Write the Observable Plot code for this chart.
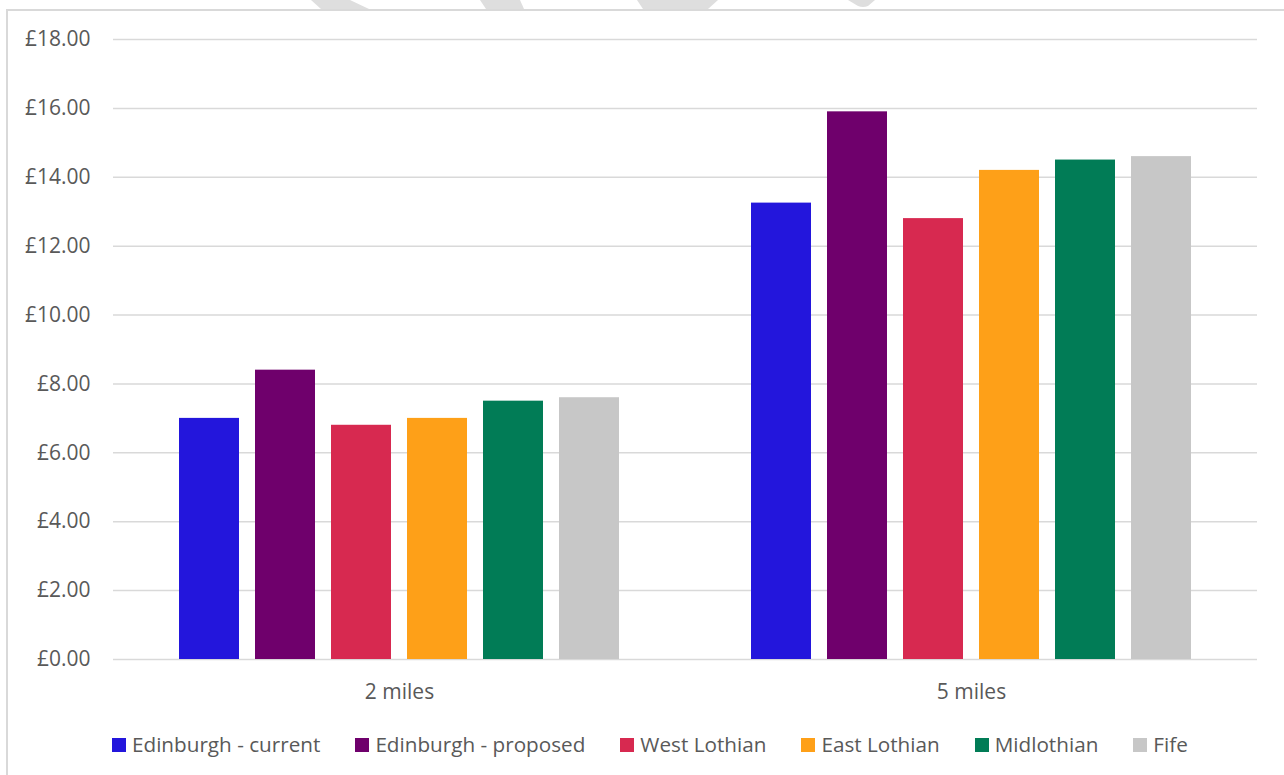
<!DOCTYPE html>
<html>
<head>
<meta charset="utf-8">
<script src="https://cdn.jsdelivr.net/npm/d3@7"></script>
<script src="https://cdn.jsdelivr.net/npm/@observablehq/plot@0.6"></script>
<style>
  html, body { margin: 0; padding: 0; background: #fff; }
  #wrap { position: relative; width: 1284px; height: 775px; overflow: hidden; font-family: "Open Sans", sans-serif; }
  #frame { position: absolute; left: 6px; top: 9px; right: -4px; bottom: -4px; border-left: 2px solid #d9d9d9; border-top: 2px solid #d9d9d9; }
  #wm { position: absolute; left: 0; top: 0; }
  #chart { position: absolute; left: 0; top: 0; }
  #legend { position: absolute; left: 112px; top: 734px; height: 21px; display: flex; align-items: center; font-size: 20.7px; line-height: 21px; color: #595959; white-space: nowrap; }
  .item { display: flex; align-items: center; margin-right: 35px; }
  .sw { width: 14px; height: 14px; margin-right: 6px; }
</style>
</head>
<body>
<div id="wrap">
  <svg id="wm" width="1284" height="12">
    <polygon points="311,0 350,0 369,9 321,9" fill="#dedede"/>
    <polygon points="480,0 520,0 524,9 486,9" fill="#dedede"/>
    <polygon points="637,0 718,0 708,9 643,9" fill="#dedede"/>
    <path d="M848,0 L875,0 L868,6 Q863,8 858,6 Z" fill="#dedede"/>
  </svg>
  <div id="frame"></div>
  <div id="chart"></div>
  <div id="legend"></div>
</div>
<script>
const groups = ["2 miles", "5 miles"];
const series = ["Edinburgh - current", "Edinburgh - proposed", "West Lothian", "East Lothian", "Midlothian", "Fife"];
const colors = ["#2316DC", "#6F006C", "#D72950", "#FEA018", "#017C56", "#C7C7C7"];
const values2miles = [7.00, 8.40, 6.80, 7.00, 7.50, 7.60];
const values5miles = [13.25, 15.90, 12.80, 14.20, 14.50, 14.60];
const yTicks = [0, 2, 4, 6, 8, 10, 12, 14, 16, 18];

const data = [];
series.forEach((s, i) => {
  data.push({group: groups[0], series: s, value: values2miles[i]});
  data.push({group: groups[1], series: s, value: values5miles[i]});
});

const chart = Plot.plot({
  width: 1284,
  height: 710,
  marginLeft: 113,
  marginRight: 27,
  marginTop: 39,
  marginBottom: 51,
  style: { fontFamily: "Open Sans, sans-serif", fontSize: "21px", color: "#595959", background: "transparent" },
  fx: { domain: groups, padding: 0, label: null },
  x: { domain: series, paddingInner: 0.2105, paddingOuter: 0.868, axis: null },
  y: { domain: [0, 18], label: null },
  color: { domain: series, range: colors },
  marks: [
    Plot.ruleY(yTicks, { stroke: "#d9d9d9", strokeWidth: 1.5 }),
    Plot.barY(data, { fx: "group", x: "series", y: "value", fill: "series" }),
    Plot.axisY(yTicks, { tickSize: 0, tickPadding: 23, tickFormat: d => "£" + d.toFixed(2), label: null, fontSize: 21 }),
    Plot.axisFx({ anchor: "bottom", tickSize: 0, tickPadding: 25, label: null, fontSize: 21 })
  ]
});
document.getElementById("chart").appendChild(chart);

const legend = document.getElementById("legend");
series.forEach((s, i) => {
  const item = document.createElement("div");
  item.className = "item";
  const sw = document.createElement("div");
  sw.className = "sw";
  sw.style.background = colors[i];
  const t = document.createElement("span");
  t.textContent = s;
  item.appendChild(sw);
  item.appendChild(t);
  legend.appendChild(item);
});
</script>
</body>
</html>
